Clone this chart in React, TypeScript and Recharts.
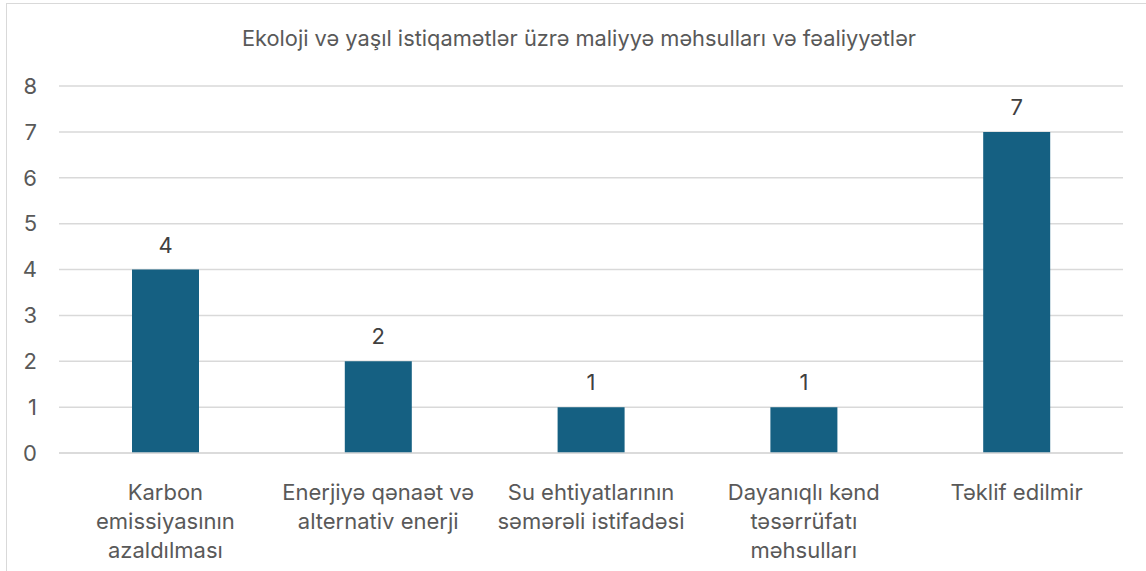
import React from 'react';
import { BarChart, Bar, XAxis, YAxis, CartesianGrid, LabelList } from 'recharts';

const title = 'Ekoloji və yaşıl istiqamətlər üzrə maliyyə məhsulları və fəaliyyətlər';
const categories = [
  'Karbon\nemissiyasının\nazaldılması',
  'Enerjiyə qənaət və\nalternativ enerji',
  'Su ehtiyatlarının\nsəmərəli istifadəsi',
  'Dayanıqlı kənd\ntəsərrüfatı\nməhsulları',
  'Təklif edilmir',
];
const values = [4, 2, 1, 1, 7];
const yTicks = [0, 1, 2, 3, 4, 5, 6, 7, 8];

const data = categories.map((c, i) => ({ name: c, value: values[i] }));

const FONT = 'Inter, "Noto Sans", sans-serif';

const CategoryTick = (props: any) => {
  const { x, y, payload } = props;
  const lines = String(payload.value).split('\n');
  return (
    <text x={x} y={y} textAnchor="middle" fill="#595959" fontSize={22} fontFamily={FONT}>
      {lines.map((l: string, i: number) => (
        <tspan key={i} x={x} y={y + 39 + i * 29}>
          {l}
        </tspan>
      ))}
    </text>
  );
};

export default function App() {
  return (
    <div
      style={{
        position: 'absolute',
        left: 0,
        top: 0,
        width: 1146,
        height: 571,
        overflow: 'hidden',
        background: '#fff',
      }}
    >
      <div
        style={{
          position: 'absolute',
          left: 6,
          top: 3,
          width: 1300,
          height: 800,
          border: '1px solid #D9D9D9',
          boxSizing: 'border-box',
        }}
      />
      <svg
        width={1146}
        height={80}
        style={{ position: 'absolute', left: 0, top: 0 }}
      >
        <text
          x={579}
          y={46}
          textAnchor="middle"
          fill="#595959"
          fontSize={21.8}
          fontFamily={FONT}
        >
          {title}
        </text>
      </svg>
      <div style={{ position: 'absolute', left: 0, top: 0 }}>
        <BarChart
          width={1146}
          height={571}
          data={data}
          margin={{ top: 86, right: 23, left: 0, bottom: 0 }}
        >
          <CartesianGrid vertical={false} stroke="#D9D9D9" strokeWidth={1.5} />
          <XAxis
            dataKey="name"
            axisLine={{ stroke: '#D9D9D9', strokeWidth: 1.5 }}
            tickLine={false}
            height={118}
            interval={0}
            tick={<CategoryTick />}
          />
          <YAxis
            domain={[0, 8]}
            ticks={yTicks}
            width={59}
            axisLine={false}
            tickLine={false}
            tickSize={0}
            tickMargin={22}
            tick={{ fill: '#595959', fontSize: 22, fontFamily: FONT }}
          />
          <Bar dataKey="value" fill="#156082" barSize={67} isAnimationActive={false}>
            <LabelList
              dataKey="value"
              position="top"
              offset={17}
              fill="#404040"
              fontSize={22}
              fontFamily={FONT}
            />
          </Bar>
        </BarChart>
      </div>
    </div>
  );
}
